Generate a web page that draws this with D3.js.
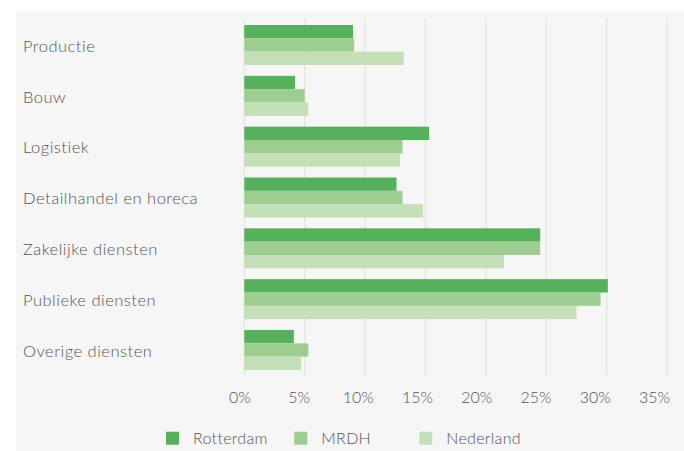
<!DOCTYPE html>
<html><head><meta charset="utf-8">
<script src="https://cdn.jsdelivr.net/npm/d3@7"></script>
<style>
html,body{margin:0;padding:0;background:#fff;}
svg text{font-family:"Lato","Open Sans",sans-serif;fill:#555;}
</style></head>
<body><svg id="c" width="684" height="451"></svg>
<script>
const categories = ["Productie","Bouw","Logistiek","Detailhandel en horeca","Zakelijke diensten","Publieke diensten","Overige diensten"];
const seriesNames = ["Rotterdam","MRDH","Nederland"];
const rotterdam = [9.0, 4.2, 15.3, 12.6, 24.5, 30.1, 4.1];
const mrdh      = [9.1, 5.0, 13.1, 13.1, 24.5, 29.5, 5.3];
const nederland = [13.2, 5.3, 12.9, 14.8, 21.5, 27.5, 4.7];
const ticks = [0,5,10,15,20,25,30,35];
const colors = ["#55b25a","#9ecd91","#c4e0b9"];

const series = [rotterdam, mrdh, nederland];
const svg = d3.select("#c");
svg.append("rect").attr("x",16).attr("y",11).attr("width",684-16).attr("height",451-11).attr("fill","#f6f6f6");

const x = d3.scaleLinear().domain([0,35]).range([244.3,667]);
const y = d3.scaleBand().domain(categories).range([19.6,375.4]).paddingInner(0.213).paddingOuter(0.1065);
const ySub = d3.scaleBand().domain(seriesNames).range([0,y.bandwidth()]);

// grid
svg.append("g").selectAll("line").data(ticks).join("line")
  .attr("x1",d=>x(d)).attr("x2",d=>x(d)).attr("y1",19).attr("y2",375.5)
  .attr("stroke","#e4e4e4").attr("stroke-width",1.3);

// bars
const g = svg.append("g");
categories.forEach((c,i)=>{
  seriesNames.forEach((s,j)=>{
    g.append("rect")
      .attr("x",x(0)).attr("y",y(c)+ySub(s))
      .attr("width",x(series[j][i])-x(0)).attr("height",ySub.bandwidth())
      .attr("fill",colors[j]);
  });
});

// category labels
svg.append("g").selectAll("text").data(categories).join("text")
  .attr("x",23).attr("y",d=>y(d)+y.bandwidth()/2+1).attr("dy","0.35em")
  .attr("font-size",16.5).attr("letter-spacing",0.5).attr("font-weight",300).text(d=>d);

// x axis labels
const axis = d3.axisBottom(x).tickValues(ticks).tickFormat(d=>d+"%").tickSize(0).tickPadding(0);
const ag = svg.append("g").attr("transform","translate(0,392)").call(axis);
ag.select(".domain").remove();
ag.selectAll("text").attr("font-size",16).attr("font-weight",300).attr("fill","#555")
  .attr("font-family","Lato, 'Open Sans', sans-serif")
  .attr("dx",d=>-5 - d*0.23);

// legend
const legX = [166,294.3,419.3];
const lg = svg.append("g");
seriesNames.forEach((s,j)=>{
  lg.append("rect").attr("x",legX[j]).attr("y",431.7).attr("width",13).attr("height",13).attr("fill",colors[j]);
  lg.append("text").attr("x",legX[j]+27).attr("y",438.5).attr("dy","0.35em")
    .attr("font-size",16).attr("letter-spacing",0.3).attr("font-weight",300).text(s);
});
</script></body></html>
